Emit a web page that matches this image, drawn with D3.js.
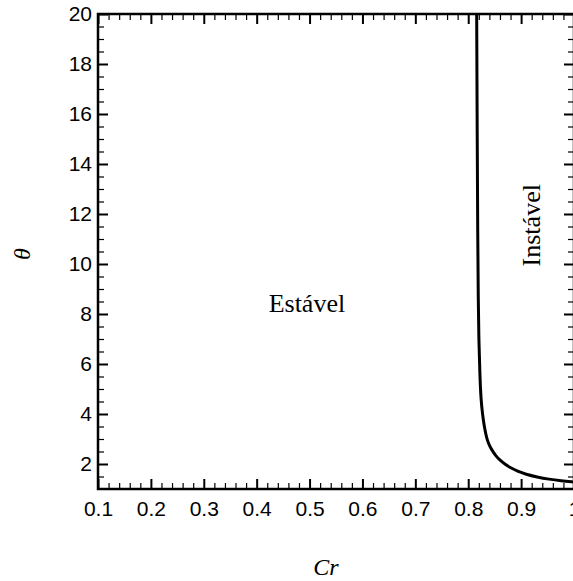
<!doctype html>
<html lang="pt">
<head>
<meta charset="utf-8">
<title>Cr x theta</title>
<script src="https://cdnjs.cloudflare.com/ajax/libs/d3/7.8.5/d3.min.js"></script>
<style>
  body { margin: 0; background: #fff; }
  .tick text { font-family: "Liberation Sans", Arial, sans-serif; font-size: 21px; fill: #000; }
  .ann { font-family: "Liberation Serif", "Times New Roman", serif; font-size: 26px; fill: #000; }
  .lab { font-family: "Liberation Serif", "Times New Roman", serif; font-style: italic; font-size: 24px; fill: #000; }
</style>
</head>
<body>
<div id="chart"></div>
<script>
// boundary curve
var crValues    = [0.816, 0.817, 0.818, 0.819, 0.820, 0.822, 0.824, 0.827, 0.830, 0.833, 0.836, 0.840, 0.845, 0.852, 0.860, 0.870, 0.880, 0.893, 0.909, 0.930, 0.953, 0.975, 1.000];
var thetaValues = [20,    15,    11,    8.5,   7,     5.6,   4.6,   4.0,   3.55,  3.22,  2.96,  2.74,  2.55,  2.33,  2.15,  1.98,  1.85,  1.71,  1.59,  1.48,  1.39,  1.33,  1.28];

var xMajor = [0.1, 0.2, 0.3, 0.4, 0.5, 0.6, 0.7, 0.8, 0.9, 1.0];
var yMajor = [2, 4, 6, 8, 10, 12, 14, 16, 18, 20];

var width = 573, height = 581;
var margin = {left: 98, right: -1, top: 14, bottom: 92};

var svg = d3.select("#chart").append("svg")
    .attr("width", width)
    .attr("height", height);

var x = d3.scaleLinear().domain([0.1, 1.0]).range([margin.left, width - margin.right]);
var y = d3.scaleLinear().domain([1, 20]).range([height - margin.bottom, margin.top]);

var xMinor = d3.range(0.1, 1.0001, 0.02).filter(function(v) { return Math.abs(v * 10 - Math.round(v * 10)) > 1e-6; });
var yMinor = d3.range(1.5, 20, 0.5).filter(function(v) { return Math.abs(v / 2 - Math.round(v / 2)) > 1e-6; });

var fmtX = function(d) { return Math.abs(d - 1) < 1e-9 ? "1" : d3.format(".1f")(d); };

function drawAxis(axisFn, scale, ticks, size, fmt, transform, sw) {
    var g = svg.append("g")
        .attr("transform", transform)
        .call(axisFn(scale).tickValues(ticks).tickSize(size).tickPadding(8).tickFormat(fmt));
    g.select(".domain").remove();
    g.selectAll(".tick line").attr("stroke", "#000").attr("stroke-width", sw);
    return g;
}

var yBot = height - margin.bottom, yTop = margin.top;
var xLeft = margin.left, xRight = width - margin.right;

// bottom axis
drawAxis(d3.axisBottom, x, xMinor, -6, "", "translate(0," + yBot + ")", 1.2);
drawAxis(d3.axisBottom, x, xMajor, -10, fmtX, "translate(0," + yBot + ")", 2)
    .selectAll(".tick text").attr("y", 12);
// top axis
drawAxis(d3.axisTop, x, xMinor, -6, "", "translate(0," + yTop + ")", 1.2);
drawAxis(d3.axisTop, x, xMajor, -10, "", "translate(0," + yTop + ")", 2);
// left axis
drawAxis(d3.axisLeft, y, yMinor, -6, "", "translate(" + xLeft + ",0)", 1.2);
drawAxis(d3.axisLeft, y, yMajor, -10, d3.format("d"), "translate(" + xLeft + ",0)", 2)
    .selectAll(".tick text").attr("x", -6);
// right axis
drawAxis(d3.axisRight, y, yMinor, -6, "", "translate(" + xRight + ",0)", 1.2);
drawAxis(d3.axisRight, y, yMajor, -10, "", "translate(" + xRight + ",0)", 2);

// frame
svg.append("rect")
    .attr("x", xLeft).attr("y", yTop)
    .attr("width", xRight - xLeft).attr("height", yBot - yTop)
    .attr("fill", "none").attr("stroke", "#000").attr("stroke-width", 2.5);

svg.append("clipPath").attr("id", "clip")
    .append("rect").attr("x", xLeft).attr("y", yTop)
    .attr("width", xRight - xLeft).attr("height", yBot - yTop);

var line = d3.line()
    .x(function(d) { return x(d[0]); })
    .y(function(d) { return y(d[1]); })
    .curve(d3.curveBasis);

svg.append("path")
    .datum(d3.zip(crValues, thetaValues))
    .attr("clip-path", "url(#clip)")
    .attr("d", line)
    .attr("fill", "none")
    .attr("stroke", "#000")
    .attr("stroke-width", 3);

// region annotations
svg.append("text").attr("class", "ann")
    .attr("x", x(0.495)).attr("y", y(8.1))
    .attr("text-anchor", "middle")
    .text("Estável");

svg.append("text").attr("class", "ann")
    .attr("transform", "translate(" + (x(0.9) + 19) + "," + y(11.55) + ") rotate(-90)")
    .attr("text-anchor", "middle")
    .text("Instável");

// axis labels
svg.append("text").attr("class", "lab")
    .attr("x", 326).attr("y", 575)
    .attr("text-anchor", "middle")
    .text("Cr");

svg.append("text").attr("class", "lab")
    .attr("transform", "translate(30," + y(10.4) + ") rotate(-90)")
    .attr("text-anchor", "middle")
    .text("θ");
</script>
</body>
</html>
